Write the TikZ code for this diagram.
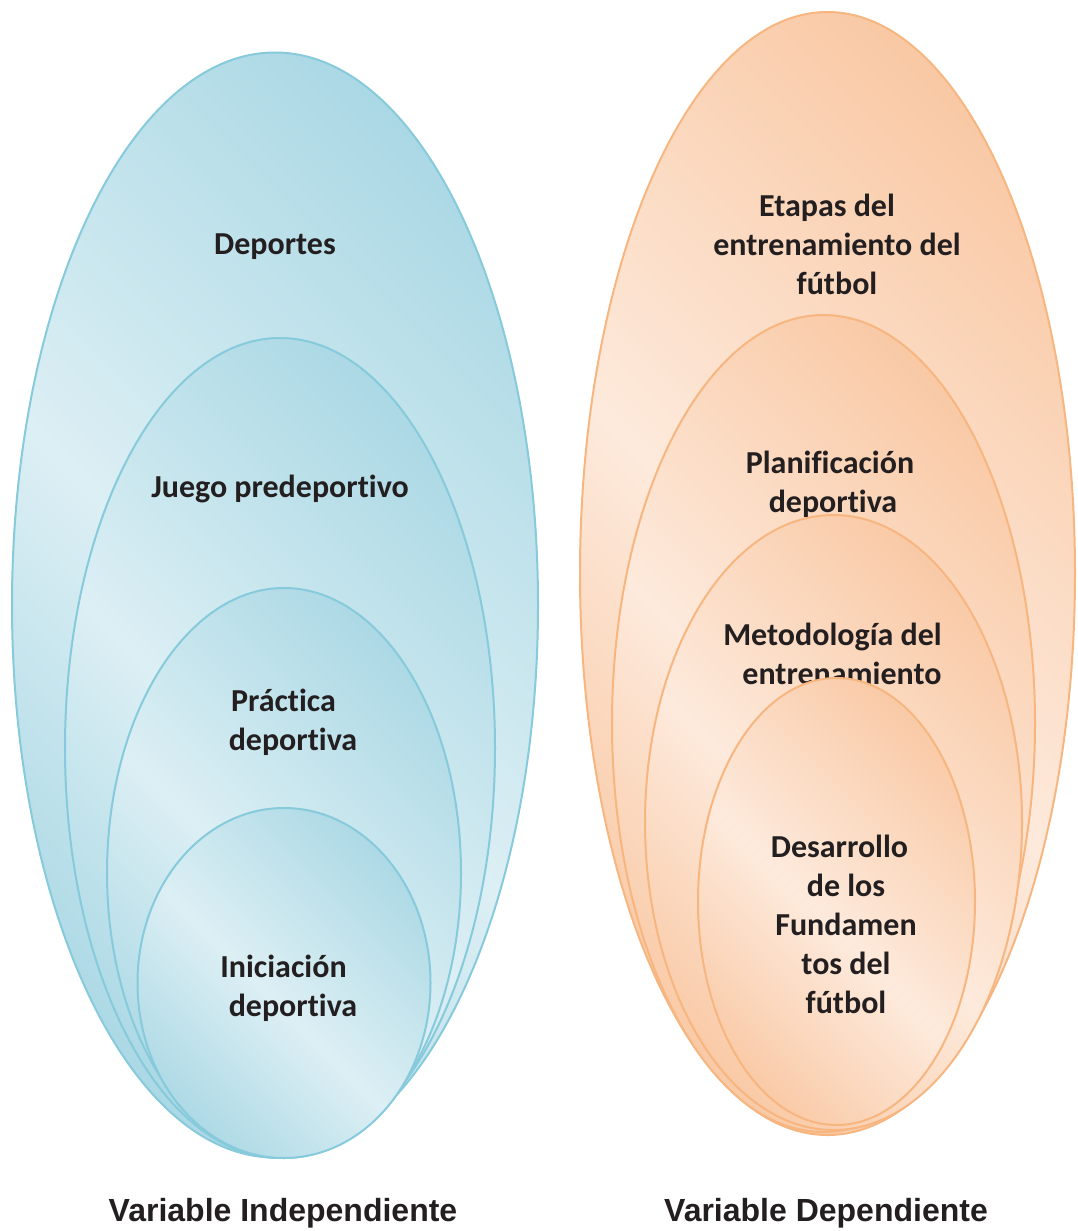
\documentclass[tikz,border=0pt]{standalone}
\usepackage{fontspec}
\setmainfont{Carlito}[Ligatures=NoCommon]
\newfontfamily\footfont{Liberation Sans}
\usetikzlibrary{shapes.geometric}

\definecolor{blueLine}{HTML}{86CADB}
\definecolor{blueDark}{HTML}{A8D7E4}
\definecolor{blueLight}{HTML}{DCEFF4}
\definecolor{orangeLine}{HTML}{F7B680}
\definecolor{orangeDark}{HTML}{F9C7A2}
\definecolor{orangeLight}{HTML}{FDEADC}
\definecolor{ink}{HTML}{231F20}

% dark - light - dark sheen, tilted across each oval
\pgfdeclareverticalshading{bluesheen}{100bp}{color(0bp)=(blueDark); color(22bp)=(blueDark);
  color(47bp)=(blueLight); color(78bp)=(blueDark); color(100bp)=(blueDark)}
\pgfdeclareverticalshading{orangesheen}{100bp}{color(0bp)=(orangeDark); color(22bp)=(orangeDark);
  color(47bp)=(orangeLight); color(78bp)=(orangeDark); color(100bp)=(orangeDark)}

\tikzset{
  oval/.style={ellipse, inner sep=0pt, line width=2pt},
  blueoval/.style={oval, draw=blueLine, shade, shading=bluesheen, shading angle=-45},
  orangeoval/.style={oval, draw=orangeLine, shade, shading=orangesheen, shading angle=-45},
  caption/.style={font=\fontsize{32}{39}\selectfont\bfseries, text=ink, align=center, inner sep=0pt},
  footer/.style={font=\footfont\fontsize{32}{39}\selectfont\bfseries, text=ink, inner sep=0pt}
}

\begin{document}
\begin{tikzpicture}[x=1pt,y=-1pt]
\useasboundingbox (0,0) rectangle (1078,1231);

% independent variable: nested ovals, largest first
\node[blueoval, minimum width=526pt, minimum height=1105pt] (ovDeportes) at (275,605) {};
\node[caption] (txDeportes) at (275,247) {Deportes};
\node[blueoval, minimum width=430pt, minimum height=820pt] (ovJuego) at (280,748) {};
\node[caption] (txJuego) at (280,489) {Juego predeportivo};
\node[blueoval, minimum width=354pt, minimum height=570pt] (ovPractica) at (284,873) {};
\node[caption] (txPractica) at (293,722) {Práctica\hspace*{19pt}\\deportiva};
\node[blueoval, minimum width=293pt, minimum height=350pt] (ovIniciacion) at (284,983) {};
\node[caption] (txIniciacion) at (293,988) {Iniciación\hspace*{19pt}\\deportiva};

% dependent variable: nested ovals, largest first
\node[orangeoval, minimum width=495pt, minimum height=1123pt] (ovEtapas) at (827.5,573.5) {};
\node[caption] (txEtapas) at (837,244) {Etapas del\hspace*{20pt}\\entrenamiento del\\fútbol};
\node[orangeoval, minimum width=423pt, minimum height=817pt] (ovPlan) at (823.5,723.5) {};
\node[caption] (txPlan) at (833,484) {Planificación\hspace*{6pt}\\deportiva};
\node[orangeoval, minimum width=377pt, minimum height=615pt] (ovMetodo) at (833.5,822.5) {};
\node[caption] (txMetodo) at (842,654) {Metodología del\hspace*{19pt}\\entrenamiento};
\node[orangeoval, minimum width=277pt, minimum height=447pt] (ovDesarrollo) at (836.5,901.5) {};
\node[caption] (txDesarrollo) at (846,924) {Desarrollo\hspace*{13pt}\\de los\\Fundamen\\tos del\\fútbol};

% captions under each group
\node[footer] (ftIndep) at (283,1213) {Variable Independiente};
\node[footer] (ftDep) at (826,1213) {Variable Dependiente};
\end{tikzpicture}
\end{document}
